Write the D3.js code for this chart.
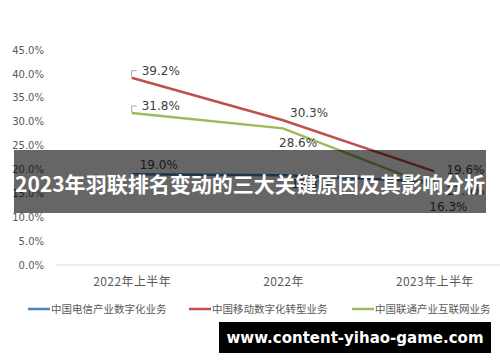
<!DOCTYPE html>
<html>
<head>
<meta charset="utf-8">
<script src="https://cdn.jsdelivr.net/npm/d3@7"></script>
<style>
  body { margin: 0; background: #fff; }
  svg { display: block; }
</style>
</head>
<body>
<div id="chart"></div>
<script>
// chart values
const categories = ["2022年上半年", "2022年", "2023年上半年"];
const seriesNames = ["中国电信产业数字化业务", "中国移动数字化转型业务", "中国联通产业互联网业务"];
const telecomValues = [19.0, 18.8, 17.5];
const mobileValues = [39.2, 30.3, 19.6];
const unicomValues = [31.8, 28.6, 16.3];
const yTicks = [0, 5, 10, 15, 20, 25, 30, 35, 40, 45];
const titleText = "2023年羽联排名变动的三大关键原因及其影响分析";
const watermarkText = "www.content-yihao-game.com";

const width = 500, height = 362;
const colors = ["#4F81BD", "#C0504D", "#9BBB59"];
// label offsets (dx, dy) relative to each point, per series
const labelOffsets = [
    [[8, -9], [8, 9], [12, 9]],
    [[10, -7], [7, -7], [12, -2]],
    [[10, -7], [-4, 14], [-5, 20]]
];

const svg = d3.select("#chart").append("svg")
    .attr("width", width)
    .attr("height", height);

const xScale = d3.scalePoint().domain(categories).range([56, 510]).padding(0.5);
const yScale = d3.scaleLinear().domain([0, 45]).range([265, 50]);

const series = [telecomValues, mobileValues, unicomValues].map((vals, i) => ({
    name: seriesNames[i],
    color: colors[i],
    points: vals.map((v, j) => ({ cat: categories[j], value: v, off: labelOffsets[i][j] }))
}));

// y axis labels
const yAxis = d3.axisLeft(yScale).tickValues(yTicks)
    .tickFormat(d => d.toFixed(1) + "%").tickSize(0).tickPadding(0);
const yAxisG = svg.append("g")
    .attr("transform", "translate(44,0)")
    .call(yAxis);
yAxisG.select(".domain").remove();
yAxisG.selectAll("text")
    .attr("fill", "#595959")
    .style("font-family", "DejaVu Sans, sans-serif")
    .style("font-size", "10px");

// baseline + category labels
const xAxisG = svg.append("g")
    .attr("transform", "translate(0," + yScale(0) + ")")
    .call(d3.axisBottom(xScale).tickSize(0).tickPadding(12));
xAxisG.select(".domain").remove();
xAxisG.append("line")
    .attr("x1", 56).attr("x2", width)
    .attr("stroke", "#d9d9d9").attr("stroke-width", 1);
xAxisG.selectAll(".tick text")
    .attr("fill", "#595959")
    .style("font-family", "Noto Sans CJK SC, sans-serif")
    .style("font-size", "12px")
    .style("letter-spacing", "0.4px");

// lines
const line = d3.line()
    .x(d => xScale(d.cat))
    .y(d => yScale(d.value));

svg.append("g").selectAll("path")
    .data(series)
    .join("path")
    .attr("d", d => line(d.points))
    .attr("fill", "none")
    .attr("stroke", d => d.color)
    .attr("stroke-width", 2.5);

// leader brackets on the first two callouts
[1, 2].forEach(i => {
    const p = series[i].points[0];
    const px = xScale(p.cat), py = yScale(p.value);
    svg.append("path")
        .attr("d", "M" + px + "," + (py - 1) + "V" + (py + p.off[1]) + "H" + (px + 5))
        .attr("fill", "none")
        .attr("stroke", "#a6a6a6")
        .attr("stroke-width", 1);
});

// data labels
svg.append("g").selectAll("g")
    .data(series)
    .join("g")
    .selectAll("text")
    .data(d => d.points)
    .join("text")
    .attr("x", d => xScale(d.cat) + d.off[0])
    .attr("y", d => yScale(d.value) + d.off[1])
    .attr("dy", "0.35em")
    .attr("fill", "#404040")
    .style("font-family", "DejaVu Sans, sans-serif")
    .style("font-size", "12px")
    .text(d => d.value.toFixed(1) + "%");

// legend
const legendX = [28, 189, 352];
const legend = svg.append("g").selectAll("g")
    .data(series)
    .join("g")
    .attr("transform", (d, i) => "translate(" + legendX[i] + ",309)");
legend.append("line")
    .attr("x1", 0).attr("x2", 22)
    .attr("stroke", d => d.color)
    .attr("stroke-width", 2.5);
legend.append("text")
    .attr("x", 23)
    .attr("dy", "0.35em")
    .attr("fill", "#595959")
    .style("font-family", "Noto Sans CJK SC, sans-serif")
    .style("font-size", "10.5px")
    .text(d => d.name);

// title banner over the chart
svg.append("rect")
    .attr("x", 14).attr("y", 150)
    .attr("width", 472).attr("height", 63)
    .attr("fill", "rgba(0,0,0,0.6)");
svg.append("text")
    .attr("x", 250).attr("y", 185)
    .attr("dy", "0.35em")
    .attr("text-anchor", "middle")
    .attr("fill", "#fff")
    .attr("textLength", 470)
    .attr("lengthAdjust", "spacingAndGlyphs")
    .style("font-family", "Noto Sans CJK SC, sans-serif")
    .style("font-weight", "bold")
    .style("font-size", "21px")
    .text(titleText);

// watermark
svg.append("rect")
    .attr("x", 219).attr("y", 322)
    .attr("width", 272).attr("height", 31)
    .attr("fill", "#000");
svg.append("text")
    .attr("x", 355).attr("y", 338)
    .attr("dy", "0.35em")
    .attr("text-anchor", "middle")
    .attr("fill", "#fff")
    .style("font-family", "DejaVu Sans, sans-serif")
    .style("font-weight", "bold")
    .style("font-size", "15px")
    .text(watermarkText);
</script>
</body>
</html>
